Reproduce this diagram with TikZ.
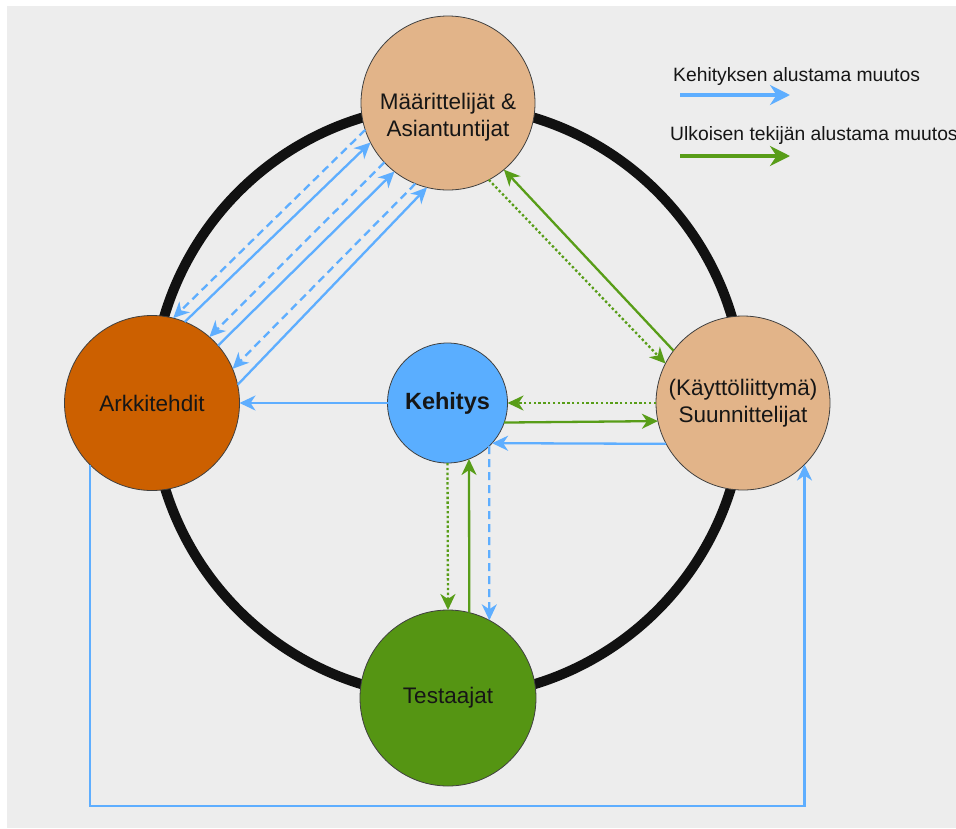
\documentclass[tikz,border=0pt]{standalone}
\usepackage{fontspec}
\setmainfont{Liberation Sans}
\usetikzlibrary{arrows.meta}

\definecolor{canvasgrey}{HTML}{EDEDED}
\definecolor{tanfill}{HTML}{E2B489}
\definecolor{archorange}{HTML}{CC6000}
\definecolor{devblue}{HTML}{5AAEFF}
\definecolor{testgreen}{HTML}{559513}
\definecolor{lineblue}{HTML}{5EAEFF}
\definecolor{linegreen}{HTML}{589D18}
\definecolor{ringblack}{HTML}{111111}
\definecolor{textdark}{HTML}{161616}

\begin{document}
\begin{tikzpicture}[x=1pt,y=-1pt,
  role/.style={circle, draw=black!75, line width=0.8pt, inner sep=0pt, outer sep=0pt,
    text=textdark, font=\fontsize{22.5}{27.5}\selectfont, align=center},
  rolelabel/.style={inner sep=0pt, text=textdark, font=\fontsize{22.5}{27.5}\selectfont, align=center},
  legendlabel/.style={inner sep=0pt, text=textdark, font=\fontsize{19.3}{23}\selectfont},
  arrowend/.style={-{Stealth[length=16pt,width=15pt,inset=5pt]}},
  blueflow/.style={draw=lineblue, line width=2.3pt, arrowend},
  greenflow/.style={draw=linegreen, line width=2.3pt, arrowend},
  dashflow/.style={dash pattern=on 8pt off 5pt},
  dotflow/.style={dash pattern=on 2.4pt off 2.4pt},
  legendarrow/.style={line width=3.5pt, -{Stealth[length=20pt,width=20pt,inset=6.5pt]}}
]
\useasboundingbox (0,0) rectangle (956,828);
\fill[white] (0,0) rectangle (956,828);
\fill[canvasgrey] (7,6) rectangle (956,828);

% outer ring joining the four roles
\draw[ringblack, line width=10pt] (448,401) circle[radius=296];

% roles
\node[role, fill=tanfill, minimum size=174pt] (spec) at (448,103) {};
\node[rolelabel] (spectext) at (448,117) {Määrittelijät \&\\Asiantuntijat};
\node[role, fill=archorange, minimum size=175pt] (arch) at (152,403) {Arkkitehdit};
\node[role, fill=devblue, minimum size=120pt, font=\bfseries\fontsize{23.5}{28}\selectfont] (dev) at (447.5,403) {Kehitys};
\node[role, fill=tanfill, minimum size=174pt] (ux) at (743,403) {(Käyttöliittymä)\\Suunnittelijat};
\node[role, fill=testgreen, minimum size=176pt] (test) at (448,698) {Testaajat};

% specifiers <-> architects
\draw[blueflow, dashflow] (spec.198) -- (arch.76);
\draw[blueflow] (arch.68) -- (spec.207);
\draw[blueflow, dashflow] (spec.223) -- (arch.49);
\draw[blueflow] (arch.41) -- (spec.232);
\draw[blueflow, dashflow] (spec.248) -- (arch.23);
\draw[blueflow] (arch.12) -- (spec.256);

% specifiers <-> designers
\draw[greenflow, dotflow] (spec.298) -- (ux.153);
\draw[greenflow] (ux.143) -- (spec.310);

% development <-> designers
\draw[greenflow, dotflow] (ux.180) -- (dev.0);
\draw[greenflow] (dev.-19) -- (ux.192);
\draw[blueflow] (ux.208) -- (dev.-42);

% development -> architects
\draw[blueflow] (dev.180) -- (arch.0);

% development <-> testers
\draw[greenflow, dotflow] (dev.270) -- (test.90);
\draw[greenflow] (test.76.2) -- (dev.291.5);
\draw[blueflow, dashflow] (dev.314.4) -- (test.62.2);

% architects -> designers, around the bottom
\coordinate (loopbase) at (448,806);
\draw[blueflow] (arch.225) |- (loopbase) -| (ux.315);

% legend
\node[legendlabel, anchor=base west] (legdev) at (673,81) {Kehityksen alustama muutos};
\coordinate (legdevA) at (680,95);
\coordinate (legdevB) at (790,95);
\draw[legendarrow, lineblue] (legdevA) -- (legdevB);
\node[legendlabel, anchor=base west] (legext) at (670,140) {Ulkoisen tekijän alustama muutos};
\coordinate (legextA) at (680,156);
\coordinate (legextB) at (790,156);
\draw[legendarrow, linegreen] (legextA) -- (legextB);
\end{tikzpicture}
\end{document}
